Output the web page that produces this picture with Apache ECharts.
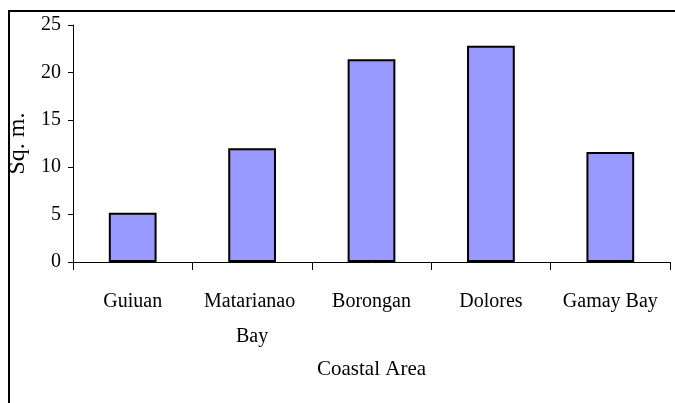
<!DOCTYPE html>
<html>
<head>
<meta charset="utf-8">
<script src="https://cdn.jsdelivr.net/npm/echarts@6/dist/echarts.min.js"></script>
<style>
  html, body { margin: 0; padding: 0; background: #ffffff; overflow: hidden; }
  #chart { width: 675px; height: 403px; }
</style>
</head>
<body>
<div id="chart"></div>
<script>
// Coastal areas and their measured area in square metres
const areas = ['Guiuan', 'Matarianao Bay', 'Borongan', 'Dolores', 'Gamay Bay'];
const sqm = [5.2, 12.0, 21.4, 22.8, 11.6];
const yTicks = [0, 5, 10, 15, 20, 25];

const font = '"Liberation Serif", "Times New Roman", serif';

const chart = echarts.init(document.getElementById('chart'), null, { renderer: 'canvas' });

chart.setOption({
  backgroundColor: '#ffffff',
  animation: false,
  graphic: [{
    type: 'rect',
    shape: { x: 9, y: 11, width: 720, height: 440 },
    style: { fill: 'none', stroke: '#000000', lineWidth: 2 },
    silent: true
  }],
  grid: { left: 73, right: 5, top: 25, bottom: 141, containLabel: false, outerBoundsMode: 'none' },
  xAxis: {
    type: 'category',
    data: areas,
    name: 'Coastal Area',
    nameLocation: 'middle',
    nameGap: 97,
    nameTextStyle: { fontFamily: font, fontSize: 21, color: '#000000' },
    axisLine: { lineStyle: { color: '#000000', width: 1 } },
    axisTick: { show: true, length: 8, lineStyle: { color: '#000000' } },
    axisLabel: {
      fontFamily: font, fontSize: 20, color: '#000000',
      margin: 22, lineHeight: 35, width: 112, overflow: 'break', interval: 0
    },
    splitLine: { show: false }
  },
  yAxis: {
    type: 'value',
    min: yTicks[0],
    max: yTicks[yTicks.length - 1],
    interval: yTicks[1] - yTicks[0],
    name: 'Sq. m.',
    nameLocation: 'middle',
    nameGap: 39,
    nameRotate: 90,
    nameTextStyle: { fontFamily: font, fontSize: 24, color: '#000000' },
    axisLine: { show: true, lineStyle: { color: '#000000', width: 1 } },
    axisTick: { show: true, length: 5, lineStyle: { color: '#000000' } },
    axisLabel: { fontFamily: font, fontSize: 20, color: '#000000', margin: 12 },
    splitLine: { show: false }
  },
  series: [{
    type: 'bar',
    data: sqm,
    barWidth: '40%',
    itemStyle: { color: '#9999FF', borderColor: '#000000', borderWidth: 2 }
  }]
});
</script>
</body>
</html>
